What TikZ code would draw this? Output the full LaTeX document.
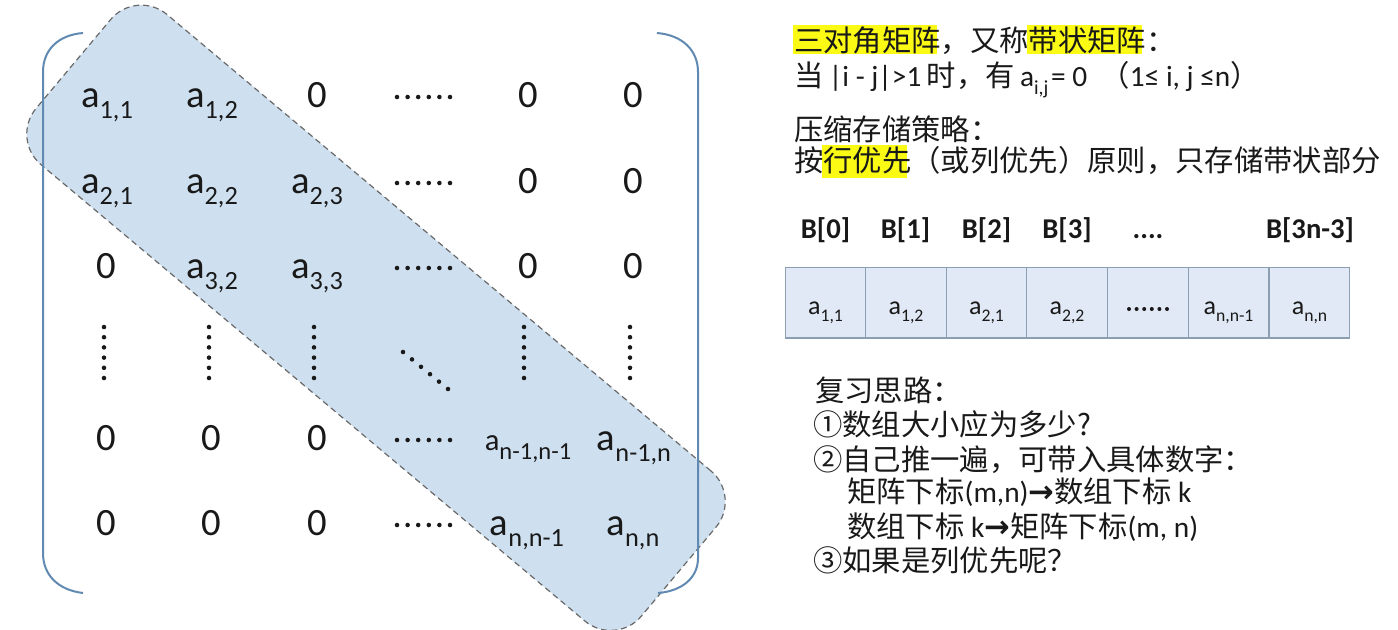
\documentclass[tikz,border=0pt]{standalone}
\usepackage{fontspec}
\usepackage{graphicx}
\setmainfont{Carlito}
\newfontfamily\cjk{Noto Sans CJK SC}
\newfontfamily\djv{DejaVu Sans}
\definecolor{brk}{RGB}{96,138,178}
\definecolor{bandfill}{RGB}{206,224,240}
\definecolor{bandedge}{RGB}{105,105,105}
\definecolor{cellfill}{RGB}{224,233,245}
\definecolor{celledge}{RGB}{140,158,178}
\definecolor{hl}{RGB}{250,250,20}
\definecolor{ink}{RGB}{25,25,25}
\newcommand\sbs[2][0.68]{\raisebox{-0.3em}{\scalebox{#1}{#2}}}
\newcommand\arr{{\djv\bfseries\fontsize{23}{24}\selectfont →}}
\tikzset{
  ment/.style={font=\fontsize{29}{32}\selectfont, text=ink, inner sep=0pt, anchor=base},
  bracket/.style={draw=brk, line width=1.5pt},
  band/.style={draw=bandedge, dashed, dash pattern=on 4.5pt off 3pt, line width=0.9pt, fill=bandfill,
    rounded corners=30pt, minimum width=592.5pt, minimum height=147pt, inner sep=0pt, rotate=-40},
  cell/.style={draw=celledge, fill=cellfill, line width=0.8pt, minimum width=60.5pt, minimum height=53.2pt, inner sep=0pt},
  celltxt/.style={font=\fontsize{19.5}{22}\selectfont, text=ink, inner sep=0pt, anchor=base},
  hdr/.style={font=\bfseries\fontsize{21.5}{24}\selectfont, text=ink, inner sep=0pt, anchor=base},
  txt/.style={font=\fontsize{22}{26}\selectfont, text=ink, inner sep=0pt, anchor=base west},
  dotc/.style={fill=ink}
}
\begin{document}
\begin{tikzpicture}[x=0.75pt, y=-0.75pt]
\useasboundingbox (0,0) rectangle (1398,629);
\fill[white] (0,0) rectangle (1398,629);

% band
\node[band] (band) at (376,317.8) {};

% brackets
\draw[bracket] (83,33) .. controls (58,35) and (43,50) .. (43,72) -- (43,553) .. controls (43,575) and (58,590) .. (83,593);
\draw[bracket] (657,33) .. controls (682,35) and (698,50) .. (698,72) -- (698,558) .. controls (698,578) and (682,591) .. (658,593);

% matrix entries
\node[ment] (m11) at (107,107) {a\sbs{1,1}};
\node[ment] (m12) at (212,107) {a\sbs{1,2}};
\node[ment] (m13) at (317,107) {0};
\node[ment] (m15) at (528,107) {0};
\node[ment] (m16) at (633,107) {0};

\node[ment] (m21) at (107,193) {a\sbs{2,1}};
\node[ment] (m22) at (212,193) {a\sbs{2,2}};
\node[ment] (m23) at (317,193) {a\sbs{2,3}};
\node[ment] (m25) at (528,193) {0};
\node[ment] (m26) at (633,193) {0};

\node[ment] (m31) at (106,278) {0};
\node[ment] (m32) at (212,278) {a\sbs{3,2}};
\node[ment] (m33) at (317,278) {a\sbs{3,3}};
\node[ment] (m35) at (528,278) {0};
\node[ment] (m36) at (633,278) {0};

\node[ment] (m51) at (106,450) {0};
\node[ment] (m52) at (211,450) {0};
\node[ment] (m53) at (317,450) {0};
\node[ment, font=\fontsize{23}{26}\selectfont] (m55) at (528,450) {a\sbs[0.8]{n-1,n-1}};
\node[ment] (m56) at (634,450) {a\sbs{n-1,n}};

\node[ment] (m61) at (106,535) {0};
\node[ment] (m62) at (211,535) {0};
\node[ment] (m63) at (317,535) {0};
\node[ment] (m65) at (527,535) {a\sbs{n,n-1}};
\node[ment] (m66) at (633,535) {a\sbs{n,n}};

% horizontal dots
\foreach \yy in {97,183,268,440,525}{
  \foreach \k in {0,...,5}{\fill[dotc] (397+10.6*\k,\yy) circle (1.7pt);}
}
% vertical dots
\foreach \xx in {104,209,314,524,630}{
  \foreach \k in {0,...,5}{\fill[dotc] (\xx,327+10.2*\k) circle (1.7pt);}
}
% diagonal dots
\foreach \k in {0,...,5}{\fill[dotc] (403+9*\k,352+7.4*\k) circle (1.7pt);}

% highlights
\fill[hl] (793,25) rectangle (937,54);
\fill[hl] (1027,25) rectangle (1142,54);
\fill[hl] (822,145) rectangle (907,178);

% right texts
\node[txt] (t1) at (794,51) {\cjk 三对角矩阵，又称带状矩阵：};
\node[txt] (t2) at (794,86) {{\cjk 当}\hspace{4pt}|i - j|>1\hspace{4pt}{\cjk 时，有}\hspace{4pt}a\sbs{i,j}\hspace{2pt}= 0\hspace{10pt}{\cjk （}1≤ i, j ≤n{\cjk ）}};
\node[txt] (t3) at (794,140) {\cjk 压缩存储策略：};
\node[txt] (t4) at (794,171) {\cjk 按行优先（或列优先）原则，只存储带状部分};

% headers
\node[hdr] (h0) at (825.5,238) {B[0]};
\node[hdr] (h1) at (905.5,238) {B[1]};
\node[hdr] (h2) at (986.5,238) {B[2]};
\node[hdr] (h3) at (1067,238) {B[3]};
\node[hdr] (h4) at (1148,238) {....};
\node[hdr] (h6) at (1310,238) {B[3n-3]};

% cells
\node[cell] (c1) at (825.5,302.5) {};
\node[cell] (c2) at (906,302.5) {};
\node[cell] (c3) at (986.5,302.5) {};
\node[cell] (c4) at (1067,302.5) {};
\node[cell] (c5) at (1148,302.5) {};
\node[cell] (c6) at (1228.5,302.5) {};
\node[cell] (c7) at (1309.5,302.5) {};

\node[celltxt] (a1) at (825.5,314) {a\sbs{1,1}};
\node[celltxt] (a2) at (906,314) {a\sbs{1,2}};
\node[celltxt] (a3) at (986.5,314) {a\sbs{2,1}};
\node[celltxt] (a4) at (1067,314) {a\sbs{2,2}};
\foreach \k in {0,...,5}{\fill[dotc] (1129+7.6*\k,309) circle (1.5pt);}
\node[celltxt] (a6) at (1228.5,314) {a\sbs{n,n-1}};
\node[celltxt] (a7) at (1309.5,314) {a\sbs{n,n}};

% review
\node[txt] (r0) at (815,401) {\cjk 复习思路：};
\node[txt] (r1) at (813,435) {\cjk ①数组大小应为多少?};
\node[txt] (r2) at (813,470) {\cjk ②自己推一遍，可带入具体数字：};
\node[txt] (r3) at (847,502) {{\cjk 矩阵下标}(m,n)\arr{\cjk 数组下标} k};
\node[txt] (r4) at (847,537) {{\cjk 数组下标} k\arr{\cjk 矩阵下标}(m, n)};
\node[txt] (r5) at (813,571) {\cjk ③如果是列优先呢？};
\end{tikzpicture}
\end{document}
